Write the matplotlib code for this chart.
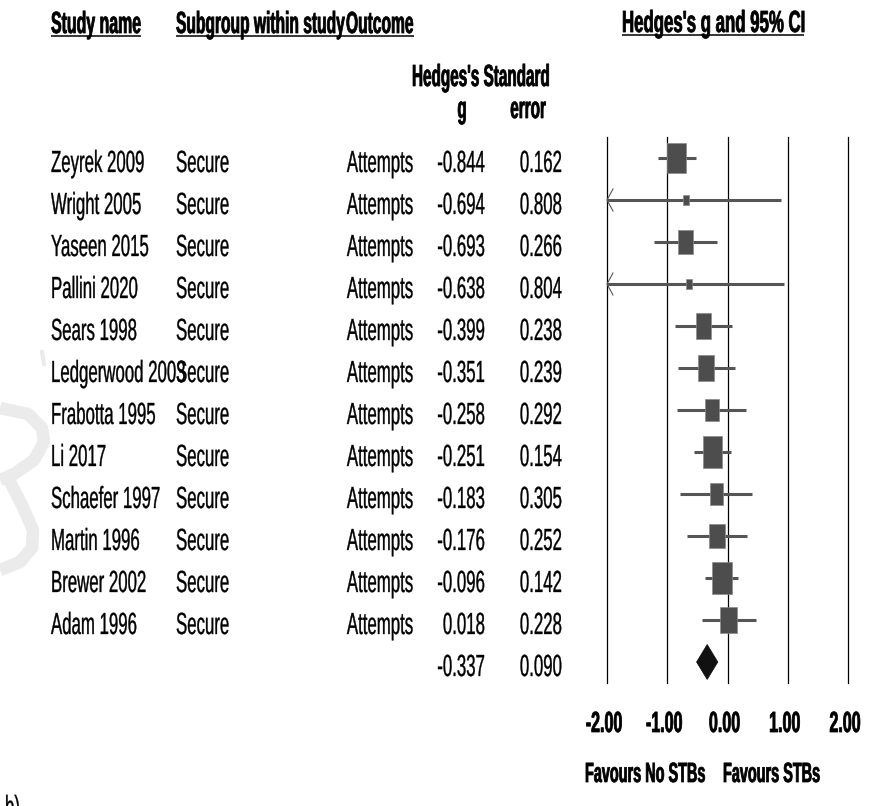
import matplotlib
matplotlib.use('Agg')
import matplotlib.pyplot as plt
import numpy as np
from matplotlib import patheffects, transforms
from matplotlib.patches import Rectangle, Polygon
from matplotlib import font_manager

# ---------------- data ----------------
studies = ["Zeyrek 2009", "Wright 2005", "Yaseen 2015", "Pallini 2020", "Sears 1998",
           "Ledgerwood 2003", "Frabotta 1995", "Li 2017", "Schaefer 1997", "Martin 1996",
           "Brewer 2002", "Adam 1996"]
subgroups = ["Secure"] * 12
outcomes = ["Attempts"] * 12
hedges_g = [-0.844, -0.694, -0.693, -0.638, -0.399, -0.351, -0.258, -0.251,
            -0.183, -0.176, -0.096, 0.018]
std_err = [0.162, 0.808, 0.266, 0.804, 0.238, 0.239, 0.292, 0.154,
           0.305, 0.252, 0.142, 0.228]
summary_g = -0.337
summary_se = 0.090
tau2 = 0.043  # between-study variance used for box weights
x_ticks = [-2, -1, 0, 1, 2]
x_tick_labels = ["-2.00", "-1.00", "0.00", "1.00", "2.00"]

# ---------------- setup ----------------
names = {f.name for f in font_manager.fontManager.ttflist}
FONT = 'Liberation Sans' if 'Liberation Sans' in names else 'DejaVu Sans'

W, H = 871, 806
fig = plt.figure(figsize=(W / 100, H / 100), dpi=100)

overlay = fig.add_axes([0, 0, 1, 1])
overlay.set_xlim(0, W)
overlay.set_ylim(H, 0)
overlay.axis('off')
overlay.patch.set_visible(False)

n = len(studies)
ax = fig.add_axes([607 / W, 1 - 683 / H, 241 / W, 546 / H])
ax.set_xlim(-2, 2)
ax.set_ylim(n + 0.5, -0.5)
ax.axis('off')
ax.patch.set_visible(False)

px_x = 241 / 4.0      # pixels per unit on x
px_y = 546 / (n + 1)  # pixels per row


class TallText(patheffects.AbstractPathEffect):
    """Stretch glyphs vertically about the baseline (gives a condensed face)
    and embolden slightly with a stroke of the text colour."""
    def __init__(self, sy, stroke):
        super().__init__((0, 0))
        self.sy = sy
        self.stroke = stroke

    def draw_path(self, renderer, gc, tpath, affine, rgbFace=None):
        y0 = affine.get_matrix()[1, 2]
        new = affine + transforms.Affine2D().translate(0, -y0).scale(1, self.sy).translate(0, y0)
        gc0 = renderer.new_gc()
        gc0.copy_properties(gc)
        gc0.set_linewidth(self.stroke)
        if rgbFace is not None:
            gc0.set_foreground(rgbFace)
        renderer.draw_path(gc0, tpath, new, rgbFace)
        gc0.restore()


def T(x, y, s, transform, ha='left', bold=False, size=22, sx=None, color='black'):
    if sx is None:
        sx = 0.53 if bold else 0.55
    stroke = 0.55 if bold else 0.25
    return fig.text(x, y, s, transform=transform, ha=ha, va='baseline',
                    fontsize=size * sx, fontweight='bold' if bold else 'normal',
                    family=FONT, color=color,
                    path_effects=[TallText(1.0 / sx, stroke)])


ov = overlay.transData
row_tr = transforms.blended_transform_factory(overlay.transData, ax.transData)
base_off = 14 / px_y

# watermark (faint)
wm_col = '#ebebeb'
overlay.plot([0, 28, 42, 44, 34, 14, 0], [408, 414, 428, 442, 460, 474, 480],
             color=wm_col, lw=9, solid_capstyle='butt', zorder=0)
overlay.plot([8, 22, 33, 32, 20, 0], [478, 505, 530, 548, 562, 570],
             color=wm_col, lw=9, solid_capstyle='butt', zorder=0)
overlay.plot([42, 44], [352, 364], color=wm_col, lw=3, zorder=0)

# headers
headers = []
headers.append(T(51, 33, "Study name", ov, bold=True, sx=0.52))
headers.append(T(176, 33, "Subgroup within study", ov, bold=True, sx=0.51))
headers.append(T(346, 33, "Outcome", ov, bold=True, sx=0.51))
headers.append(T(622, 32, "Hedges's g and 95% CI", ov, bold=True, sx=0.55))
T(412, 86, "Hedges's Standard", ov, bold=True, sx=0.5)
T(462, 118, "g", ov, ha='center', bold=True, sx=0.5)
T(528, 118, "error", ov, ha='center', bold=True, sx=0.5)

# vertical reference lines
for t in x_ticks:
    ax.axvline(t, color='black', lw=0.9, clip_on=False, zorder=1)

box_col = '#4d4d4d'
line_col = '#555555'
for i, (name, sg, oc, g, se) in enumerate(zip(studies, subgroups, outcomes, hedges_g, std_err)):
    y = i
    T(51, y + base_off, name, row_tr)
    T(176, y + base_off, sg, row_tr)
    T(413, y + base_off, oc, row_tr, ha='right')
    T(485, y + base_off, f"{g:.3f}", row_tr, ha='right')
    T(562, y + base_off, f"{se:.3f}", row_tr, ha='right')

    lo, hi = g - 1.96 * se, g + 1.96 * se
    lo_c, hi_c = max(lo, -2), min(hi, 2)
    ax.plot([lo_c, hi_c], [y, y], color=line_col, lw=2.2, solid_capstyle='butt',
            zorder=2, clip_on=False)
    if lo < -2:
        ax.plot([-2 + 6 / px_x, -2, -2 + 6 / px_x], [y - 11 / px_y, y, y + 11 / px_y],
                color=line_col, lw=0.8, zorder=2, clip_on=False)
    if hi > 2:
        ax.plot([2 - 6 / px_x, 2, 2 - 6 / px_x], [y - 11 / px_y, y, y + 11 / px_y],
                color=line_col, lw=0.8, zorder=2, clip_on=False)

    w = 1.0 / (se ** 2 + tau2)
    bw = 5.0 * np.sqrt(w)
    bh = 1.63 * bw
    ax.add_patch(Rectangle((g - bw / px_x / 2, y - bh / px_y / 2), bw / px_x, bh / px_y,
                           facecolor=box_col, edgecolor='#8a8a8a', lw=0.5, zorder=3,
                           clip_on=False))

# summary
ys = n
T(485, ys + base_off, f"{summary_g:.3f}", row_tr, ha='right')
T(562, ys + base_off, f"{summary_se:.3f}", row_tr, ha='right')
slo, shi = summary_g - 1.96 * summary_se, summary_g + 1.96 * summary_se
dh = 17.5 / px_y
ax.add_patch(Polygon([(slo, ys), (summary_g, ys - dh), (shi, ys), (summary_g, ys + dh)],
                     closed=True, facecolor='#111111', edgecolor='#111111', lw=0.5,
                     zorder=3, clip_on=False))

# tick labels
tick_tr = transforms.blended_transform_factory(
    transforms.offset_copy(ax.transData, fig=fig, x=-3, y=0, units='dots'), overlay.transData)
for t, lab in zip(x_ticks, x_tick_labels):
    T(t, 732, lab, tick_tr, ha='center', bold=True, size=21, sx=0.55)

T(585, 782, "Favours No STBs", ov, bold=True, size=20, sx=0.52)
T(723, 782, "Favours STBs", ov, bold=True, size=20, sx=0.52)

T(5, 817, "b)", ov)

# underlines for headers
fig.canvas.draw()
r = fig.canvas.get_renderer()
for t in headers:
    bb = t.get_window_extent(r)
    yb = t.get_position()[1] + 2.5
    overlay.plot([bb.x0, bb.x1], [yb, yb], color='black', lw=1.1, solid_capstyle='butt')

fig.savefig('out.png', dpi=100)
